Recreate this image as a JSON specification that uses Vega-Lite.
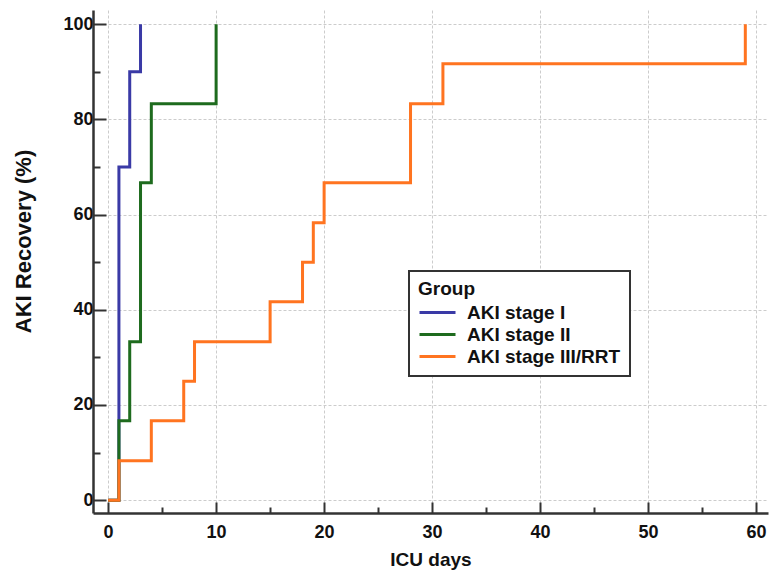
{
  "$schema": "https://vega.github.io/schema/vega-lite/v6.json",
  "width": 675,
  "height": 503,
  "autosize": {"type": "none"},
  "padding": {"left": 93, "top": 10, "right": 4, "bottom": 57},
  "background": "white",
  "config": {
    "view": {"stroke": null},
    "font": "Liberation Sans",
    "legend": {"strokeWidth": 2}
  },
  "data": {
    "values": [
      {"group": "AKI stage I", "day": 0, "pct": 0},
      {"group": "AKI stage I", "day": 1, "pct": 70},
      {"group": "AKI stage I", "day": 2, "pct": 90},
      {"group": "AKI stage I", "day": 3, "pct": 100},
      {"group": "AKI stage II", "day": 0, "pct": 0},
      {"group": "AKI stage II", "day": 1, "pct": 16.7},
      {"group": "AKI stage II", "day": 2, "pct": 33.3},
      {"group": "AKI stage II", "day": 3, "pct": 66.7},
      {"group": "AKI stage II", "day": 4, "pct": 83.3},
      {"group": "AKI stage II", "day": 10, "pct": 100},
      {"group": "AKI stage III/RRT", "day": 0, "pct": 0},
      {"group": "AKI stage III/RRT", "day": 1, "pct": 8.3},
      {"group": "AKI stage III/RRT", "day": 4, "pct": 16.7},
      {"group": "AKI stage III/RRT", "day": 7, "pct": 25},
      {"group": "AKI stage III/RRT", "day": 8, "pct": 33.3},
      {"group": "AKI stage III/RRT", "day": 15, "pct": 41.7},
      {"group": "AKI stage III/RRT", "day": 18, "pct": 50},
      {"group": "AKI stage III/RRT", "day": 19, "pct": 58.3},
      {"group": "AKI stage III/RRT", "day": 20, "pct": 66.7},
      {"group": "AKI stage III/RRT", "day": 28, "pct": 83.3},
      {"group": "AKI stage III/RRT", "day": 31, "pct": 91.7},
      {"group": "AKI stage III/RRT", "day": 59, "pct": 100}
    ]
  },
  "resolve": {"axis": {"x": "independent", "y": "independent"}},
  "layer": [
    {
      "mark": {"type": "line", "opacity": 0},
      "encoding": {
        "x": {
          "field": "day",
          "type": "quantitative",
          "scale": {"domain": [-1.4, 61.1], "nice": false, "zero": false},
          "axis": {
            "orient": "bottom",
            "title": null,
            "values": [5, 15, 25, 35, 45, 55],
            "labels": false,
            "domain": false,
            "grid": false,
            "tickColor": "#333",
            "tickWidth": 2,
            "tickSize": -6
          }
        },
        "y": {
          "field": "pct",
          "type": "quantitative",
          "scale": {"domain": [-2.7, 103], "nice": false, "zero": false},
          "axis": {
            "orient": "left",
            "title": null,
            "values": [10, 30, 50, 70, 90],
            "labels": false,
            "domain": false,
            "grid": false,
            "tickColor": "#333",
            "tickWidth": 2,
            "tickSize": -7
          }
        },
        "detail": {"field": "group", "type": "nominal"}
      }
    },
    {
      "mark": {"type": "line", "interpolate": "step-after", "strokeWidth": 3, "clip": true},
      "encoding": {
        "x": {
          "field": "day",
          "type": "quantitative",
          "scale": {"domain": [-1.4, 61.1], "nice": false, "zero": false},
          "axis": {
            "orient": "bottom",
            "title": "ICU days",
            "titleFont": "Liberation Sans",
            "titleFontSize": 19,
            "titleFontWeight": "bold",
            "titleColor": "#111",
            "titlePadding": 9,
            "values": [0, 10, 20, 30, 40, 50, 60],
            "labelFont": "Liberation Sans",
            "labelFontSize": 18,
            "labelFontWeight": "bold",
            "labelColor": "#111",
            "labelPadding": 21,
            "labelFlush": false,
            "domainColor": "#333",
            "domainWidth": 2.5,
            "tickColor": "#333",
            "tickWidth": 2,
            "tickSize": -11,
            "grid": true,
            "gridColor": "#cccccc",
            "gridDash": [3, 2],
            "gridWidth": 1
          }
        },
        "y": {
          "field": "pct",
          "type": "quantitative",
          "scale": {"domain": [-2.7, 103], "nice": false, "zero": false},
          "axis": {
            "orient": "left",
            "title": "AKI Recovery (%)",
            "titleFont": "Liberation Sans",
            "titleFontSize": 22,
            "titleFontWeight": "bold",
            "titleColor": "#111",
            "titlePadding": 27,
            "titleY": 231,
            "values": [0, 20, 40, 60, 80, 100],
            "labelFont": "Liberation Sans",
            "labelFontSize": 18,
            "labelFontWeight": "bold",
            "labelColor": "#111",
            "labelPadding": 13,
            "labelFlush": false,
            "domainColor": "#333",
            "domainWidth": 2.5,
            "tickColor": "#333",
            "tickWidth": 2,
            "tickSize": -13,
            "grid": true,
            "gridColor": "#cccccc",
            "gridDash": [3, 2],
            "gridWidth": 1
          }
        },
        "color": {
          "field": "group",
          "type": "nominal",
          "scale": {
            "domain": ["AKI stage I", "AKI stage II", "AKI stage III/RRT"],
            "range": ["#3a3aa6", "#1e6b1e", "#ff7420"]
          },
          "legend": {
            "title": "Group",
            "orient": "none",
            "legendX": 316,
            "legendY": 261,
            "titleFont": "Liberation Sans",
            "titleFontSize": 19,
            "titleFontWeight": "bold",
            "titleColor": "#111",
            "titlePadding": 3,
            "labelFont": "Liberation Sans",
            "labelFontSize": 19,
            "labelFontWeight": "bold",
            "labelColor": "#111",
            "labelOffset": 28,
            "symbolType": "M-1,0H3",
            "symbolSize": 324,
            "symbolStrokeWidth": 3,
            "symbolFillColor": "transparent",
            "rowPadding": 1,
            "padding": 9,
            "strokeColor": "#333",
            "fillColor": "white",
            "cornerRadius": 0,
            "labelLimit": 400
          }
        }
      }
    }
  ]
}
